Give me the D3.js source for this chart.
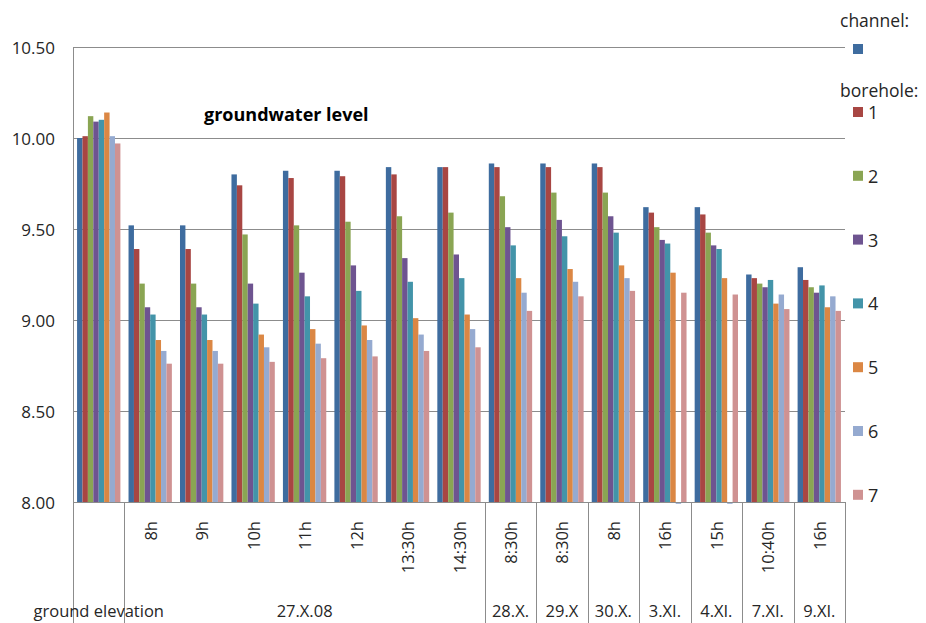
<!DOCTYPE html>
<html>
<head>
<meta charset="utf-8">
<script src="https://cdn.jsdelivr.net/npm/d3@7"></script>
<style>
  html, body { margin: 0; padding: 0; background: #ffffff; }
  svg { display: block; font-family: "Open Sans", "Noto Sans", sans-serif; }
</style>
</head>
<body>
<svg id="chart" width="926" height="623"></svg>
<script>
// Groundwater level chart: channel + 7 boreholes per measurement time

const categories = [
    "ground elevation", "8h", "9h", "10h", "11h", "12h", "13:30h", "14:30h",
    "8:30h", "8:30h", "8h", "16h", "15h", "10:40h", "16h"
];

// outer axis groups: label and how many categories they span
const dateGroups = [
    { label: "ground elevation", span: 1 },
    { label: "27.X.08", span: 7 },
    { label: "28.X.", span: 1 },
    { label: "29.X", span: 1 },
    { label: "30.X.", span: 1 },
    { label: "3.XI.", span: 1 },
    { label: "4.XI.", span: 1 },
    { label: "7.XI.", span: 1 },
    { label: "9.XI.", span: 1 }
];

const seriesNames = ["channel", "1", "2", "3", "4", "5", "6", "7"];

const channel   = [10.00, 9.52, 9.52, 9.80, 9.82, 9.82, 9.84, 9.84, 9.86, 9.86, 9.86, 9.62, 9.62, 9.25, 9.29];
const borehole1 = [10.01, 9.39, 9.39, 9.74, 9.78, 9.79, 9.80, 9.84, 9.84, 9.84, 9.84, 9.59, 9.58, 9.23, 9.22];
const borehole2 = [10.12, 9.20, 9.20, 9.47, 9.52, 9.54, 9.57, 9.59, 9.68, 9.70, 9.70, 9.51, 9.48, 9.20, 9.18];
const borehole3 = [10.09, 9.07, 9.07, 9.20, 9.26, 9.30, 9.34, 9.36, 9.51, 9.55, 9.57, 9.44, 9.41, 9.18, 9.15];
const borehole4 = [10.10, 9.03, 9.03, 9.09, 9.13, 9.16, 9.21, 9.23, 9.41, 9.46, 9.48, 9.42, 9.39, 9.22, 9.19];
const borehole5 = [10.14, 8.89, 8.89, 8.92, 8.95, 8.97, 9.01, 9.03, 9.23, 9.28, 9.30, 9.26, 9.23, 9.09, 9.07];
const borehole6 = [10.01, 8.83, 8.83, 8.85, 8.87, 8.89, 8.92, 8.95, 9.15, 9.21, 9.23, 7.99, 7.99, 9.14, 9.13];
const borehole7 = [9.97, 8.76, 8.76, 8.77, 8.79, 8.80, 8.83, 8.85, 9.05, 9.13, 9.16, 9.15, 9.14, 9.06, 9.05];

const seriesValues = [channel, borehole1, borehole2, borehole3, borehole4, borehole5, borehole6, borehole7];

const yTicks = [8.00, 8.50, 9.00, 9.50, 10.00, 10.50];

const seriesColors = ["#3e6c9f", "#a84643", "#8aa553", "#6e5490", "#4394a9", "#db8744", "#95aad0", "#cf9292"];

const c = {
    left: 73,
    right: 845,
    top: 47,
    bottom: 502,
    axisColor: "#8c8c8c",
    textColor: "#262626"
};

const svg = d3.select("#chart");

const x0 = d3.scaleBand()
    .domain(d3.range(categories.length))
    .range([c.left, c.right])
    .padding(0);

// Excel-like gap width of 150%: 8 bars + 1.5 bar widths of gap per category
const bw = x0.bandwidth();
const edge = bw * 0.75 / (seriesNames.length + 1.5);
const x1 = d3.scaleBand()
    .domain(d3.range(seriesNames.length))
    .range([edge, bw - edge])
    .padding(0);

const y = d3.scaleLinear()
    .domain([8, 10.5])
    .range([c.bottom, c.top]);

// gridlines
svg.append("g")
    .selectAll("line")
    .data(yTicks.filter(t => t > 8))
    .join("line")
    .attr("x1", c.left)
    .attr("x2", c.right)
    .attr("y1", d => Math.round(y(d)) + 0.5)
    .attr("y2", d => Math.round(y(d)) + 0.5)
    .attr("stroke", c.axisColor)
    .attr("stroke-width", 1);

// bars
const rows = [];
seriesValues.forEach((vals, s) => {
    vals.forEach((v, i) => rows.push({ s: s, i: i, v: v }));
});

svg.append("g")
    .selectAll("rect")
    .data(rows)
    .join("rect")
    .attr("x", d => x0(d.i) + x1(d.s))
    .attr("width", x1.bandwidth())
    .attr("y", d => Math.min(y(d.v), y(8)))
    .attr("height", d => Math.abs(y(8) - y(d.v)))
    .attr("fill", d => seriesColors[d.s]);

// y axis labels
svg.append("g")
    .selectAll("text")
    .data(yTicks)
    .join("text")
    .attr("x", 55)
    .attr("y", d => y(d))
    .attr("text-anchor", "end")
    .attr("dominant-baseline", "central")
    .attr("font-size", 17)
    .attr("fill", c.textColor)
    .text(d => d.toFixed(2));

// left axis line
svg.append("line")
    .attr("x1", c.left + 0.5).attr("x2", c.left + 0.5)
    .attr("y1", c.top).attr("y2", 623)
    .attr("stroke", c.axisColor);

// bottom axis line
svg.append("line")
    .attr("x1", c.left).attr("x2", c.right)
    .attr("y1", Math.round(y(8)) + 0.5).attr("y2", Math.round(y(8)) + 0.5)
    .attr("stroke", c.axisColor);

// group separators and outer labels
let start = 0;
dateGroups.forEach((g) => {
    const gx0 = x0(start);
    const gx1 = x0(start + g.span - 1) + bw;
    svg.append("line")
        .attr("x1", Math.round(gx1) + 0.5).attr("x2", Math.round(gx1) + 0.5)
        .attr("y1", c.bottom).attr("y2", 623)
        .attr("stroke", c.axisColor);
    svg.append("text")
        .attr("x", (gx0 + gx1) / 2)
        .attr("y", 617)
        .attr("text-anchor", "middle")
        .attr("font-size", 16.5)
        .attr("fill", c.textColor)
        .text(g.label);
    start += g.span;
});

// inner (time) labels, rotated
svg.append("g")
    .selectAll("text")
    .data(d3.range(1, categories.length))
    .join("text")
    .attr("transform", i => `translate(${x0(i) + bw / 2},521) rotate(-90)`)
    .attr("text-anchor", "end")
    .attr("dominant-baseline", "central")
    .attr("font-size", 16.5)
    .attr("fill", c.textColor)
    .text(i => categories[i]);

// title
svg.append("text")
    .attr("x", 204)
    .attr("y", 121)
    .attr("font-size", 18)
    .attr("font-weight", "bold")
    .attr("fill", "#000000")
    .text("groundwater level");

// legend
const legendX = 853;
svg.append("text")
    .attr("x", 840).attr("y", 20)
    .attr("dominant-baseline", "central")
    .attr("font-size", 17.5)
    .attr("fill", c.textColor)
    .text("channel:");
svg.append("rect")
    .attr("x", legendX).attr("y", 44)
    .attr("width", 10).attr("height", 10)
    .attr("fill", seriesColors[0]);
svg.append("text")
    .attr("x", 840).attr("y", 90)
    .attr("dominant-baseline", "central")
    .attr("font-size", 17.5)
    .attr("fill", c.textColor)
    .text("borehole:");

const legendItems = svg.append("g")
    .selectAll("g")
    .data(d3.range(1, seriesNames.length))
    .join("g")
    .attr("transform", (s, k) => `translate(${legendX},${112 + k * 63.8})`);
legendItems.append("rect")
    .attr("x", 0).attr("y", -5)
    .attr("width", 10).attr("height", 10)
    .attr("fill", s => seriesColors[s]);
legendItems.append("text")
    .attr("x", 15).attr("y", 0)
    .attr("dominant-baseline", "central")
    .attr("font-size", 18)
    .attr("fill", c.textColor)
    .text(s => seriesNames[s]);
</script>
</body>
</html>
